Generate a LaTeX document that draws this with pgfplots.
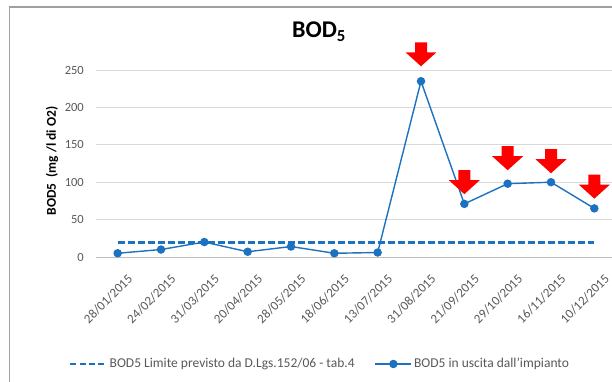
\documentclass[border=0pt]{standalone}
\usepackage{pgfplots}
\pgfplotsset{compat=1.18}
\usepackage{fontspec}
\setmainfont{Carlito}

\definecolor{bodblue}{RGB}{28,114,192}
\definecolor{labgray}{RGB}{89,89,89}
\definecolor{gridgray}{RGB}{217,217,217}
\definecolor{axisgray}{RGB}{191,191,191}
\definecolor{framegray}{RGB}{160,160,160}

% fat red down-arrow, tip at the plotted coordinate
\pgfdeclareplotmark{downarrow}{%
  \pgfpathmoveto{\pgfqpoint{0bp}{0bp}}%
  \pgfpathlineto{\pgfqpoint{-15.5bp}{14bp}}%
  \pgfpathlineto{\pgfqpoint{-6bp}{14bp}}%
  \pgfpathlineto{\pgfqpoint{-6bp}{24bp}}%
  \pgfpathlineto{\pgfqpoint{6bp}{24bp}}%
  \pgfpathlineto{\pgfqpoint{6bp}{14bp}}%
  \pgfpathlineto{\pgfqpoint{15.5bp}{14bp}}%
  \pgfpathclose
  \pgfusepathqfill}

\begin{document}
\begin{tikzpicture}
\useasboundingbox (0,0) rectangle (612bp,-382bp);
\clip (0,0) rectangle (612bp,-382bp);
\fill[white] (0,0) rectangle (612bp,-382bp);
\draw[framegray, line width=1.2bp] (9.5bp,-7bp) rectangle (700bp,-420bp);
% y axis title, left of the tick labels
\node[rotate=90, anchor=center, inner sep=0pt, font=\fontsize{13.5bp}{16bp}\selectfont\bfseries]
  at (52bp,-161bp) {BOD5\ \ (mg /l di O2)};
\begin{axis}[
  at={(96bp,-257bp)}, anchor=south west,
  scale only axis, width=520bp, height=187bp,
  clip=false,
  xmin=-0.5, xmax=11.5, ymin=0, ymax=250,
  xtick={0,...,11},
  xticklabels={28/01/2015,24/02/2015,31/03/2015,20/04/2015,28/05/2015,18/06/2015,13/07/2015,31/08/2015,21/09/2015,29/10/2015,16/11/2015,10/12/2015},
  ytick={0,50,100,150,200,250},
  ymajorgrids, major grid style={gridgray, line width=0.8bp},
  axis line style={draw=none},
  axis x line*=bottom, axis y line*=left,
  major tick length=0pt,
  /pgf/number format/assume math mode=true,
  tick label style={font=\fontsize{12.5bp}{15bp}\selectfont, text=labgray},
  yticklabel style={anchor=east, inner sep=0pt, xshift=-12bp},
  xticklabel style={font=\fontsize{13bp}{15bp}\selectfont, rotate=45, anchor=north east, inner sep=0pt, xshift=-5bp, yshift=-18bp},
  title={\textbf{BOD\textsubscript{5}}},
  title style={font=\fontsize{24bp}{28bp}\selectfont, at={(axis description cs:0.4288,1.172)}, anchor=center},
  legend columns=2,
  legend cell align=left,
  legend style={at={(axis description cs:0.431,-0.572)}, anchor=center,
    draw=none, fill=none, font=\fontsize{13.5bp}{16bp}\selectfont, text=labgray,
    /tikz/every even column/.append style={column sep=18bp},
    inner sep=0pt},
]
% x axis line
\draw[axisgray, line width=1bp] (axis cs:-0.5,0) -- (axis cs:11.5,0);

% legal limit
\addplot[bodblue, line width=3bp, dash pattern=on 7bp off 3bp,
  legend image code/.code={\draw[bodblue, line width=2.5bp, dash pattern=on 6bp off 3.3bp] (0bp,0bp) -- (36bp,0bp);}]
  coordinates {(0,20) (11,20)};
\addlegendentry{BOD5 Limite previsto da D.Lgs.152/06 - tab.4}

% measured effluent values
\addplot[bodblue, line width=1.4bp, mark=*, mark size=3.5bp, mark options={fill=bodblue, draw=bodblue},
  legend image code/.code={\draw[bodblue, line width=1.4bp] (0bp,0bp) -- (36bp,0bp); \fill[bodblue] (18bp,0bp) circle (3.5bp);}]
  coordinates {(0,5) (1,10) (2,20) (3,7) (4,14) (5,5) (6,6) (7,235) (8,71) (9,98) (10,100) (11,65)};
\addlegendentry{BOD5 in uscita dall'impianto}

% exceedance markers
\addplot[only marks, mark=downarrow, red, forget plot]
  coordinates {(7,255) (8,84) (9,116) (10,112) (11,78)};
\end{axis}
\end{tikzpicture}
\end{document}
